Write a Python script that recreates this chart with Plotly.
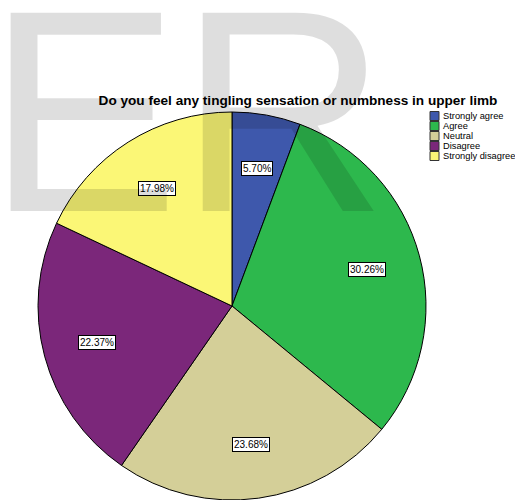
import math
import plotly.graph_objects as go

categories = ["Strongly agree", "Agree", "Neutral", "Disagree", "Strongly disagree"]
percents = [5.70, 30.26, 23.68, 22.37, 17.98]
colors = ["#3e58ac", "#2db84d", "#d4cf98", "#7b277a", "#fbf776"]
title_text = "Do you feel any tingling sensation or numbness in upper limb"

W, H = 515, 500
cx_px, cy_px, R_px = 232, 306, 194
FONT = "Liberation Sans, Arial"

fig = go.Figure(go.Pie(
    labels=categories, values=percents, sort=False, direction="clockwise", rotation=0,
    marker=dict(colors=colors, line=dict(color="#000000", width=1)),
    textinfo="none", hoverinfo="label+percent", showlegend=False,
    domain=dict(x=[(cx_px - R_px) / W, (cx_px + R_px) / W], y=[0, 1 - (cy_px - R_px) / H]),
))

def px(x):
    return x / W

def py(y):
    return 1 - y / H

annotations = []
shapes = []

# percentage labels inside slices
total = sum(percents)
cum = 0.0
for cat, v in zip(categories, percents):
    mid = (cum + v / 2) / total * 2 * math.pi
    cum += v
    r = 0.72 * R_px
    annotations.append(dict(
        x=px(cx_px + r * math.sin(mid)), y=py(cy_px - r * math.cos(mid)),
        xref="paper", yref="paper", xanchor="center", yanchor="middle",
        text=f"{v:.2f}%", showarrow=False,
        font=dict(family=FONT, size=10, color="#000000"),
        bgcolor="#ffffff", bordercolor="#000000", borderwidth=1, borderpad=1,
    ))

# compact legend (SPSS style)
leg_x, leg_y0, leg_dy, sq = 430, 116, 10, 9
for i, (cat, col) in enumerate(zip(categories, colors)):
    yc = leg_y0 + i * leg_dy
    shapes.append(dict(type="rect", xref="paper", yref="paper",
                       x0=px(leg_x), x1=px(leg_x + sq), y0=py(yc + sq / 2), y1=py(yc - sq / 2),
                       fillcolor=col, line=dict(color="#333333", width=1)))
    annotations.append(dict(x=px(leg_x + sq + 2), y=py(yc), xref="paper", yref="paper",
                            xanchor="left", yanchor="middle", text=cat, showarrow=False,
                            font=dict(family=FONT, size=9.3, color="#000000")))

# watermark
annotations.append(dict(
    x=px(-15), y=py(-52), xref="paper", yref="paper", xanchor="left", yanchor="top",
    text="ER", showarrow=False,
    font=dict(family=FONT, size=288, color="rgba(0,0,0,0.13)"),
))

fig.update_layout(
    width=W, height=H, margin=dict(l=0, r=0, t=0, b=0),
    paper_bgcolor="#ffffff", plot_bgcolor="#ffffff",
    title=dict(text=f"<b>{title_text}</b>", x=298 / W, xanchor="center", y=1 - 100 / H, yanchor="middle",
               font=dict(family=FONT, size=13.6, color="#000000")),
    annotations=annotations,
    shapes=shapes,
)

fig.write_html("out.html")
